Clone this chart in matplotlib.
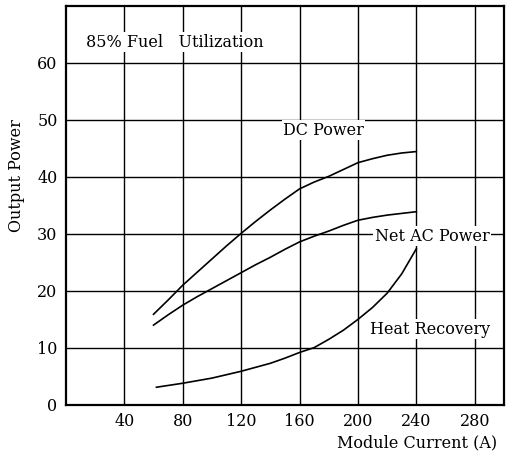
import matplotlib
matplotlib.use("Agg")
import matplotlib.pyplot as plt

# module current (A) and output power
current = [60, 70, 80, 90, 100, 110, 120, 130, 140, 150,
           160, 170, 180, 190, 200, 210, 220, 230, 240]
dc_power = [15.9, 18.4, 21.0, 23.3, 25.6, 27.9, 30.1, 32.2, 34.2, 36.1,
            37.9, 39.1, 40.1, 41.3, 42.5, 43.2, 43.8, 44.2, 44.45]
net_ac_power = [14.0, 15.8, 17.5, 19.0, 20.4, 21.8, 23.2, 24.6, 25.9, 27.3,
                28.6, 29.6, 30.5, 31.5, 32.4, 32.9, 33.3, 33.6, 33.9]
heat_current = [62, 80, 100, 120, 140, 150, 160, 170, 180, 190,
                200, 210, 220, 230, 240]
heat_recovery = [3.1, 3.8, 4.7, 5.9, 7.3, 8.2, 9.2, 10.05, 11.5, 13.1,
                 15.0, 17.1, 19.6, 23.0, 27.4]

x_ticks = [40, 80, 120, 160, 200, 240, 280]
y_ticks = [0, 10, 20, 30, 40, 50, 60]

plt.rcParams['font.family'] = ['DejaVu Serif']

fig = plt.figure(figsize=(5.07, 4.57), dpi=100)
ax = fig.add_axes([0.130, 0.114, 0.864, 0.873])

ax.set_xlim(0, 300)
ax.set_ylim(0, 70)
ax.set_xticks(x_ticks)
ax.set_yticks(y_ticks)
ax.grid(True, color='black', linewidth=1.0)
ax.tick_params(length=0, labelsize=11.5, pad=6)
for s in ax.spines.values():
    s.set_linewidth(1.6)

ax.plot(current, dc_power, color='black', lw=1.2)
ax.plot(current, net_ac_power, color='black', lw=1.2)
ax.plot(heat_current, heat_recovery, color='black', lw=1.2)

box = dict(facecolor='white', edgecolor='none', pad=1)
ax.text(13.5, 63.6, "85% Fuel   Utilization", fontsize=11.5, va='center', bbox=box)
ax.text(148.8, 48.2, "DC Power", fontsize=11.5, va='center', bbox=box)
ax.text(211.5, 29.6, "Net AC Power", fontsize=11.5, va='center', bbox=box)
ax.text(208, 13.3, "Heat Recovery", fontsize=11.5, va='center', bbox=box)

ax.set_ylabel("Output Power", fontsize=11.5)
ax.yaxis.set_label_coords(-0.093, 0.575)
ax.set_xlabel("Module Current (A)", fontsize=11.5, loc='right')
ax.xaxis.set_label_coords(0.984, -0.075)

fig.savefig("out.png", dpi=100)
